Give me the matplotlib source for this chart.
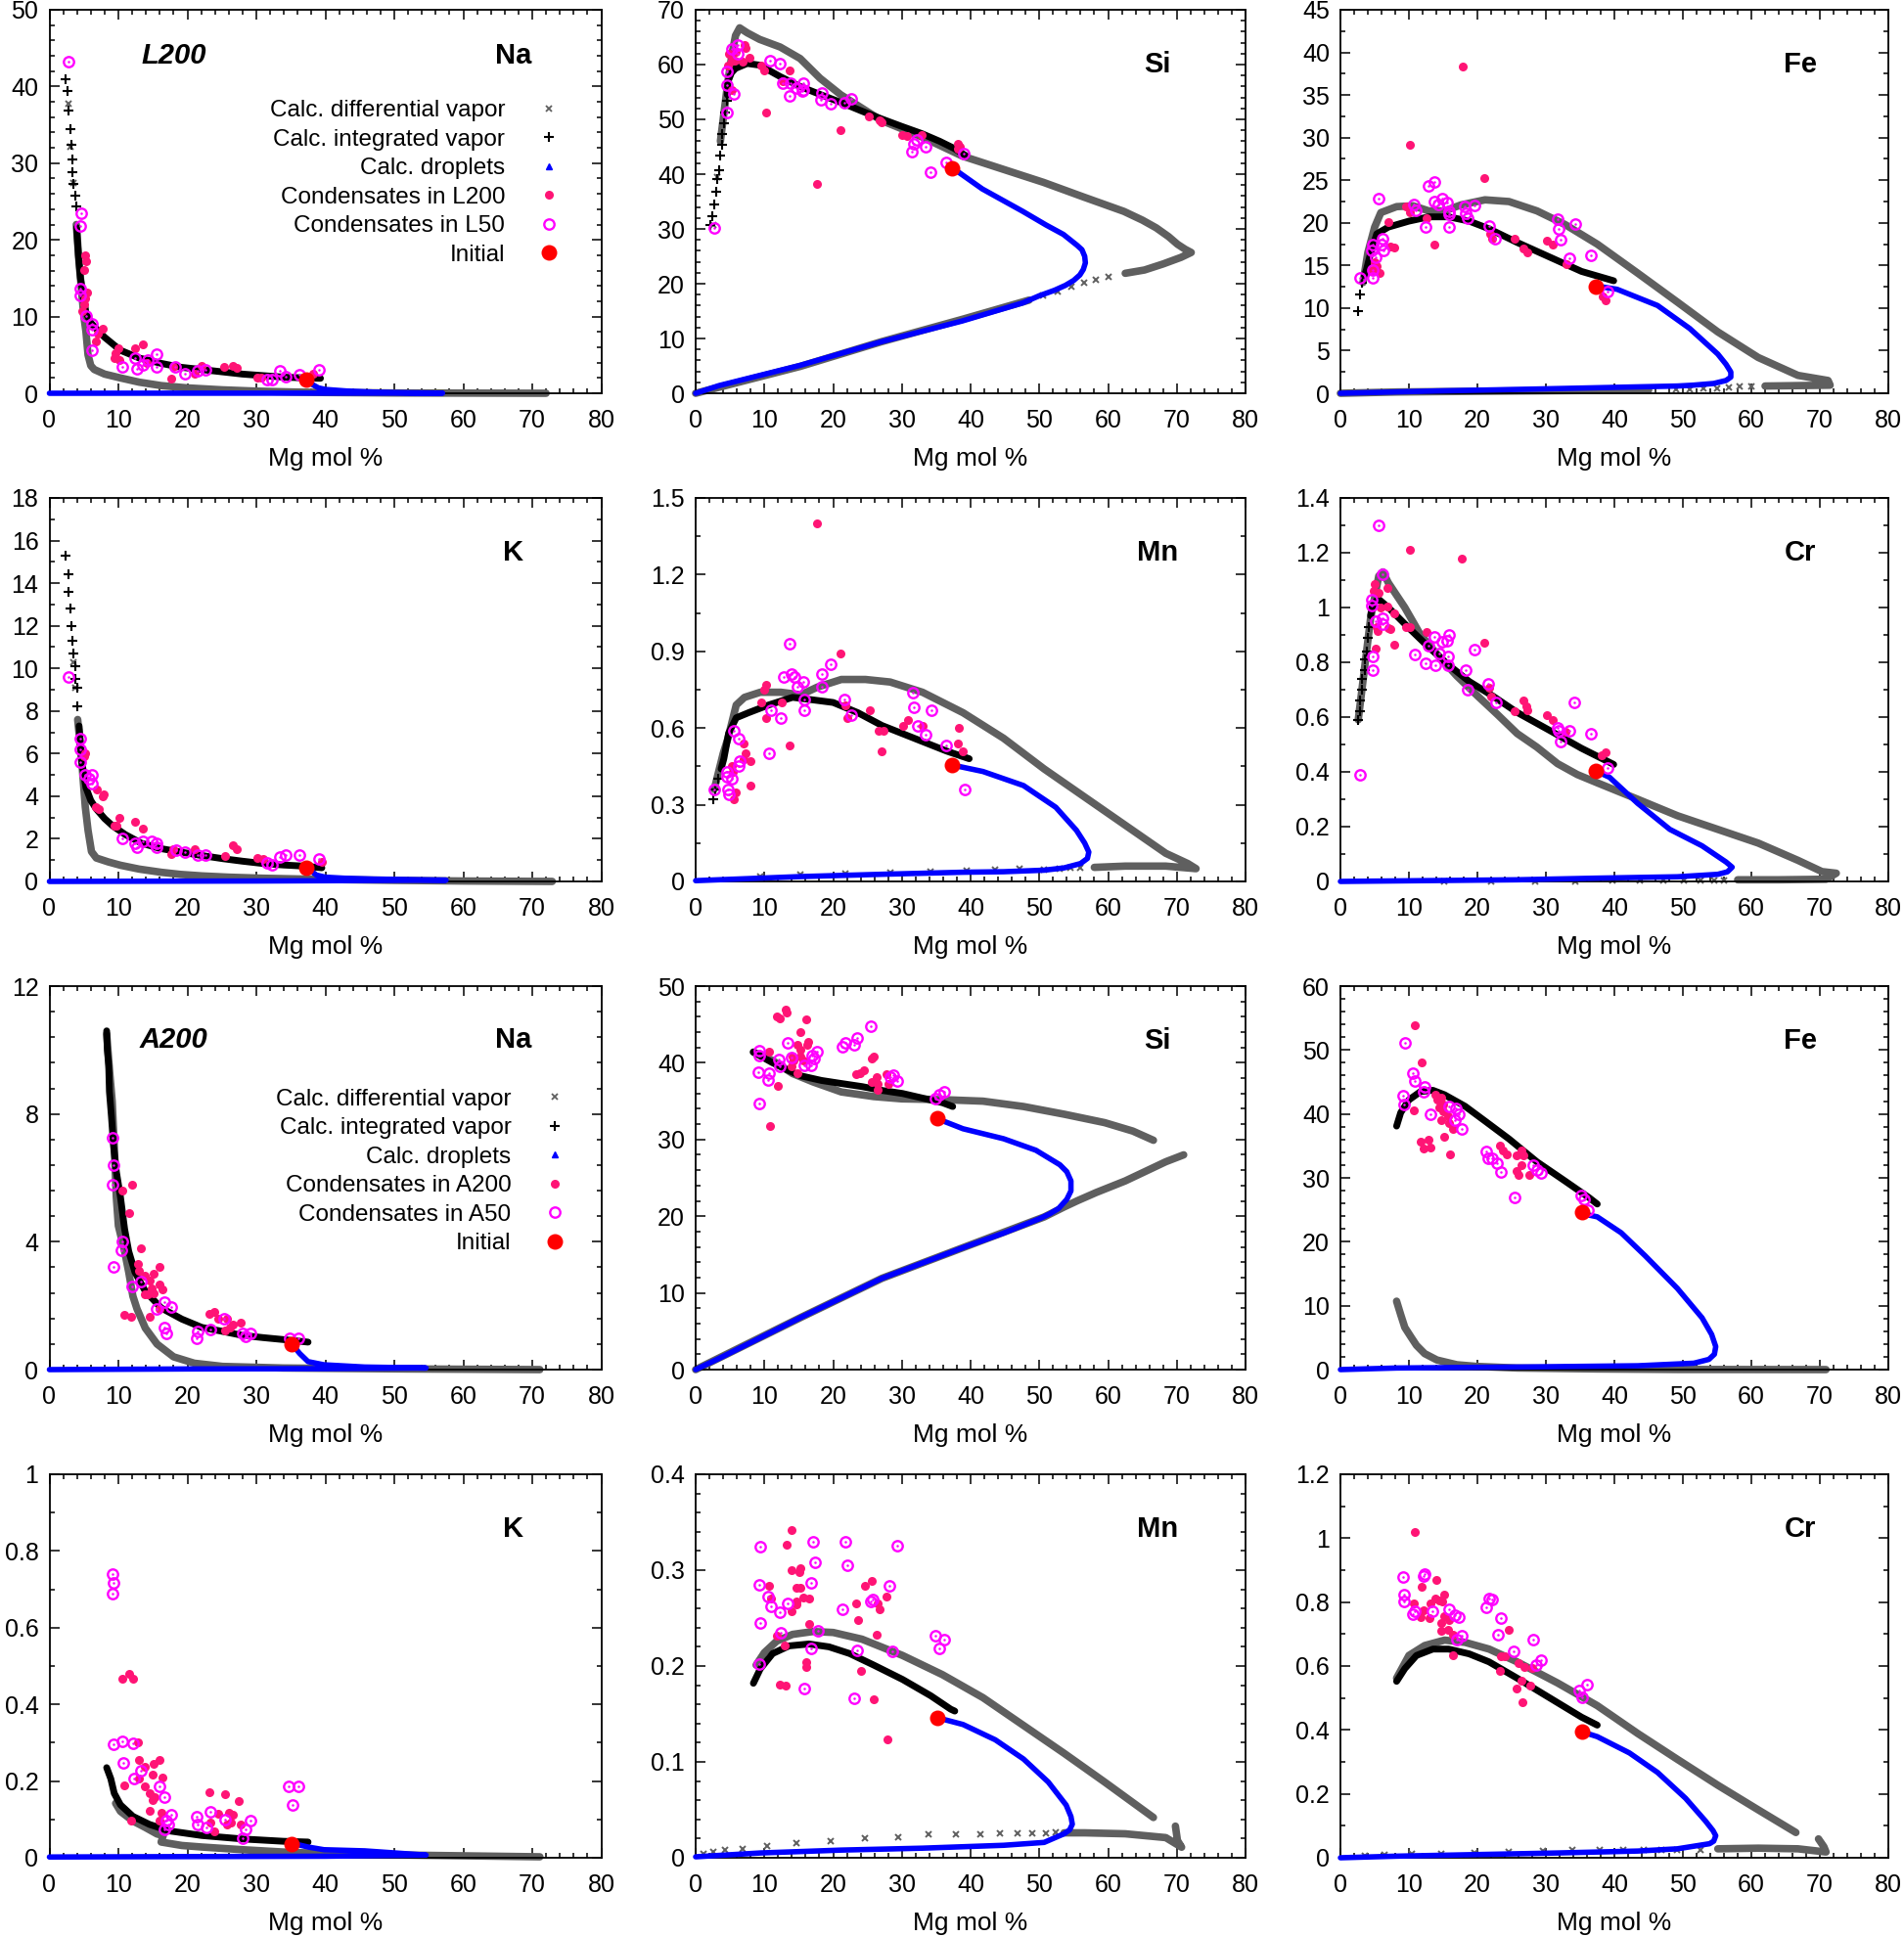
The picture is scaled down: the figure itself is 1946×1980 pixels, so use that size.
import numpy as np
import matplotlib
matplotlib.use('Agg')
import matplotlib.pyplot as plt
from matplotlib.ticker import MultipleLocator, AutoMinorLocator, FuncFormatter
from matplotlib.lines import Line2D

plt.rcParams['font.family'] = ['Liberation Sans', 'DejaVu Sans']

NAN = float('nan')
XLABEL = 'Mg mol %'
LEG_LABELS_L = ['Calc. differential vapor', 'Calc. integrated vapor', 'Calc. droplets',
                'Condensates in L200', 'Condensates in L50', 'Initial']
LEG_LABELS_A = ['Calc. differential vapor', 'Calc. integrated vapor', 'Calc. droplets',
                'Condensates in A200', 'Condensates in A50', 'Initial']

# ===================== L200 Na =====================
L_NA_DIFF = [(3.9,22.0),(4.3,17.0),(4.7,13.0),(5.0,10.0),(5.3,8.0),(5.6,5.0),(6.0,3.6),(6.5,3.1),(8.0,2.5),
             (10.3,2.0),(13.0,1.45),(16.2,1.0),(20.0,0.7),(25.0,0.45),(30.0,0.28),(35.0,0.17),(40.0,0.1),
             (50.0,0.04),(60.0,0.02),(72.0,0.0)]
L_NA_DIFF_PTS = [(2.8,37.8),(3.1,32.2),(3.5,27.4)]
L_NA_INT = [(3.95,21.6),(4.2,18.0),(4.5,15.0),(4.7,13.9),(5.3,10.5),(6.0,9.2),(6.8,8.4),(8.0,7.3),(10.3,5.6),
            (13.0,4.6),(16.2,3.9),(19.0,3.4),(22.0,3.1),(25.0,2.8),(28.0,2.5),(31.0,2.3),(34.0,2.1),(37.0,2.0),(39.3,1.95)]
L_NA_INT_PTS = [(2.36,41.0),(2.65,39.4),(2.77,36.8),(3.07,34.5),(3.25,32.4),(3.3,30.5),(3.4,28.8),(3.5,27.3),
                (3.7,25.8),(3.84,24.3)]
L_NA_DROP = [(37.3,1.8),(38.0,1.2),(39.0,0.7),(40.0,0.5),(43.0,0.3),(47.0,0.15),(52.0,0.07),(57.0,0.02),
             (45.0,0.02),(30.0,0.01),(15.0,0.01),(0.0,0.0)]
L_NA_COND = [(5.2,18.0),(5.3,17.2),(5.1,16.1),(5.5,13.1),(5.2,12.4),(5.0,11.6),(4.8,10.7),(7.8,8.4),(7.0,7.8),
             (6.8,6.7),(10.0,5.9),(9.6,5.2),(9.4,4.6),(10.2,4.4),(12.4,5.9),(13.5,6.4),(14.1,3.9),(17.6,1.9),
             (18.0,3.5),(22.0,3.6),(25.3,3.4),(26.6,3.6),(27.2,3.3),(30.1,2.0),(30.7,2.1),(38.2,2.5),(21.0,2.5)]
L_NA_COND50 = [(2.7,43.3),(4.6,23.5),(4.5,21.8),(4.5,13.7),(4.4,12.7),(5.3,10.1),(6.2,9.1),(6.1,8.3),(6.1,5.6),
               (10.6,3.4),(12.4,4.6),(12.7,3.2),(14.3,4.4),(15.6,5.1),(15.6,3.5),(13.6,3.7),(18.2,3.5),(19.6,2.5),
               (21.5,2.9),(22.6,3.1),(33.4,2.9),(31.6,1.8),(32.2,1.8),(34.2,2.2),(36.3,2.4),(39.1,3.0)]
L_NA_INIT = [(37.3,1.8)]

# ===================== L200 Si =====================
L_SI_DIFF = [(3.6,46.0),(4.2,52.0),(4.7,57.0),(5.3,62.0),(5.8,65.3),(6.4,66.7),(7.5,65.8),(9.3,64.6),(12.3,63.2),
             (15.2,61.1),(18.1,57.5),(21.1,54.5),(24.0,52.2),(27.0,49.8),(32.9,46.8),(38.8,43.3),(44.7,40.9),
             (50.6,38.5),(56.5,35.8),(62.3,33.2),(65.0,31.6),(67.0,30.2),(68.8,28.6),(70.1,27.2),(71.2,26.3),
             (72.1,25.7),(70.6,24.8),(68.0,23.6),(65.3,22.5),(62.5,21.9),(NAN,NAN),(48.5,17.0),(38.8,13.5),
             (27.0,9.4),(15.2,4.9),(0.0,0.0)]
L_SI_DIFF_PTS = [(2.5,30.8),(3.1,39.4),(60.0,21.3),(58.2,20.7),(56.5,20.1),(54.6,19.4),(52.6,18.6),(50.5,17.8)]
L_SI_INT = [(4.6,54.5),(4.7,56.9),(5.2,58.5),(5.8,59.3),(7.5,60.2),(9.3,59.9),(12.3,57.8),(15.2,56.0),(18.2,54.5),
            (21.1,53.1),(24.0,51.6),(27.0,50.1),(30.0,48.7),(32.9,47.4),(35.5,46.0),(37.6,44.7),(39.4,43.3)]
L_SI_INT_PTS = [(2.2,30.8),(2.4,32.4),(2.7,34.5),(3.0,36.8),(3.2,39.1),(3.4,40.8),(3.6,43.4),(3.8,45.3),
                (3.9,47.4),(4.1,49.2),(4.3,51.3),(4.5,53.4)]
L_SI_DROP = [(37.3,41.2),(41.7,37.3),(47.6,33.2),(51.0,30.7),(53.5,29.0),(55.5,27.0),(56.2,26.2),(56.6,25.0),
             (56.7,23.8),(56.4,22.6),(55.9,21.6),(55.0,20.6),(53.8,19.7),(52.2,18.8),(50.0,17.8),(47.6,16.5),
             (38.8,13.2),(27.0,9.4),(15.2,5.1),(3.4,1.4),(0.0,0.0)]
L_SI_COND = [(7.1,63.5),(7.3,63.0),(7.8,61.2),(6.9,60.5),(5.2,60.8),(4.7,59.9),(4.9,62.0),(5.7,60.8),(5.8,62.3),
             (5.3,55.4),(9.6,59.9),(9.9,59.0),(13.6,59.0),(12.6,56.9),(10.2,51.3),(17.6,38.2),(21.0,48.0),
             (25.2,50.5),(26.7,49.8),(27.0,49.5),(30.1,47.2),(30.8,46.9),(32.9,47.2),(38.2,45.6),(38.5,45.0),(38.1,44.6)]
L_SI_COND50 = [(2.7,30.2),(4.5,58.8),(4.5,56.3),(4.6,51.3),(5.3,62.9),(6.1,63.6),(6.1,62.0),(5.6,54.7),(10.8,60.8),
               (12.3,60.2),(12.7,56.6),(13.8,56.6),(13.6,54.2),(14.6,55.7),(15.7,56.6),(15.7,55.4),(15.5,55.1),
               (18.3,54.8),(18.2,53.5),(19.6,52.8),(21.6,53.1),(22.6,53.7),(31.5,44.1),(31.7,45.6),(32.2,46.2),
               (33.4,45.0),(34.2,40.4),(36.4,42.1),(39.0,43.7)]
L_SI_INIT = [(37.3,41.0)]

# ===================== L200 Fe =====================
L_FE_DIFF = [(3.3,13.0),(4.0,16.5),(5.0,19.5),(5.9,21.2),(8.2,21.9),(10.6,22.0),(12.9,21.4),(15.2,21.4),
             (17.6,22.1),(21.1,22.7),(24.6,22.5),(28.7,21.4),(32.8,19.8),(37.5,17.5),(43.4,14.1),(49.2,10.7),
             (55.1,7.2),(61.0,4.2),(66.8,2.1),(71.2,1.5),(71.5,0.95),(66.8,0.9),(62.0,0.85),(NAN,NAN),
             (45.0,0.38),(25.8,0.27),(8.2,0.15),(0.0,0.0)]
L_FE_DIFF_PTS = [(60.0,0.8),(58.3,0.75),(56.7,0.7),(55.0,0.62),(53.0,0.55),(51.0,0.5),(49.0,0.42)]
L_FE_INT = [(3.5,13.8),(3.8,14.5),(4.4,16.4),(5.3,18.7),(7.0,19.5),(10.0,20.2),(12.9,20.7),(15.8,20.7),(18.8,20.2),
            (21.7,19.3),(25.8,17.7),(30.5,16.0),(35.2,14.3),(39.9,13.2)]
L_FE_INT_PTS = [(2.6,9.7),(2.9,11.6),(3.2,13.0)]
L_FE_DROP = [(37.3,12.6),(40.4,12.2),(46.3,10.3),(51.0,7.6),(55.1,4.6),(56.3,3.4),(57.0,2.5),(57.0,1.9),(56.3,1.5),
             (54.5,1.15),(51.5,0.95),(49.2,0.85),(37.5,0.65),(25.8,0.45),(14.1,0.27),(0.0,0.0)]
L_FE_COND = [(9.5,21.9),(10.1,21.2),(10.1,29.2),(12.5,20.5),(13.7,17.4),(7.0,20.1),(7.3,17.2),(7.9,17.1),(5.3,14.9),
             (5.7,14.1),(4.7,14.5),(5.0,15.4),(17.8,38.3),(21.0,25.2),(21.9,18.7),(22.1,18.1),(25.4,18.1),(26.7,17.0),
             (27.3,16.5),(30.2,17.9),(31.0,17.4),(33.0,15.1),(38.3,11.4),(38.7,10.9)]
L_FE_COND50 = [(2.8,13.5),(5.6,22.8),(4.7,17.5),(4.5,16.8),(4.7,14.5),(4.7,13.5),(5.2,15.9),(6.2,18.1),(6.0,17.4),
               (6.3,16.8),(10.7,22.1),(11.0,21.5),(12.8,24.3),(13.7,24.8),(13.7,22.5),(12.4,19.5),(14.8,22.9),
               (14.3,22.2),(15.5,22.4),(15.8,21.4),(15.8,21.0),(15.8,19.5),(18.2,21.9),(18.3,21.1),(18.5,20.5),
               (19.6,22.0),(21.7,19.6),(22.6,18.1),(31.7,20.4),(31.8,19.3),(32.2,18.0),(33.4,15.8),(34.3,19.9),
               (36.5,16.2),(39.0,11.9)]
L_FE_INIT = [(37.3,12.5)]

# ===================== L200 K =====================
L_K_DIFF = [(4.1,7.6),(4.7,5.6),(5.2,3.5),(5.6,2.4),(6.1,1.4),(6.8,1.1),(8.5,0.92),(10.3,0.76),(13.0,0.58),
            (16.2,0.43),(19.0,0.33),(22.1,0.26),(26.0,0.2),(31.0,0.15),(38.7,0.1),(50.0,0.05),(60.0,0.02),(72.9,0.0)]
L_K_DIFF_PTS = [(3.5,10.3),(3.8,9.1)]
L_K_INT = [(4.3,7.3),(4.7,5.6),(5.3,4.4),(6.0,3.8),(6.8,3.4),(8.0,2.95),(9.2,2.6),(11.0,2.2),(13.3,1.8),(16.0,1.55),
           (19.2,1.37),(22.0,1.22),(25.1,1.07),(28.0,0.95),(31.0,0.84),(34.0,0.77),(36.9,0.72),(39.5,0.64)]
L_K_INT_PTS = [(2.4,15.3),(2.7,14.4),(2.8,13.6),(3.1,12.8),(3.2,12.0),(3.4,11.3),(3.5,10.7),(3.7,10.1),(3.8,9.5),
               (4.0,9.1),(4.1,8.2)]
L_K_DROP = [(37.3,0.66),(38.7,0.3),(40.0,0.2),(42.8,0.15),(47.0,0.11),(51.6,0.09),(57.5,0.06),(45.0,0.04),
            (30.0,0.02),(15.0,0.01),(0.0,0.0)]
L_K_COND = [(5.2,6.0),(5.0,5.9),(6.9,4.3),(7.9,4.1),(7.8,4.0),(6.8,3.5),(7.1,3.4),(10.1,3.0),(9.7,2.6),(9.4,2.6),
            (12.4,2.8),(13.6,2.5),(18.0,1.5),(21.0,1.5),(25.4,1.2),(26.6,1.7),(27.2,1.5),(30.1,1.1),(31.0,1.07),
            (17.7,1.3),(39.5,0.9)]
L_K_COND50 = [(2.7,9.6),(4.5,6.7),(4.4,6.2),(4.4,5.6),(5.2,5.0),(6.1,5.0),(5.7,4.8),(6.1,4.6),(10.6,2.0),(12.4,1.8),
              (12.7,1.6),(13.6,1.9),(14.8,1.9),(15.6,1.8),(15.6,1.6),(18.3,1.45),(19.6,1.37),(21.5,1.25),(22.6,1.25),
              (31.6,0.87),(32.2,0.76),(33.4,1.17),(34.2,1.22),(36.3,1.22),(39.1,1.04)]
L_K_INIT = [(37.3,0.66)]

# ===================== L200 Mn =====================
L_MN_DIFF = [(2.7,0.36),(4.0,0.5),(4.7,0.56),(5.9,0.69),(7.1,0.72),(9.4,0.74),(12.4,0.74),(15.3,0.73),(17.7,0.76),
             (21.2,0.79),(24.7,0.79),(28.3,0.78),(33.0,0.74),(38.9,0.66),(44.8,0.56),(50.7,0.44),(56.6,0.33),
             (62.5,0.22),(68.4,0.11),(71.6,0.07),(72.8,0.05),(68.4,0.06),(62.5,0.06),(58.0,0.055)]
L_MN_DIFF_PTS = [(56.0,0.055),(54.5,0.052),(53.0,0.05),(50.7,0.045),(47.1,0.048),(43.6,0.045),(39.5,0.042),
                 (34.2,0.038),(28.3,0.034),(21.8,0.03),(15.3,0.025),(9.4,0.019)]
L_MN_INT = [(3.7,0.44),(4.1,0.48),(4.8,0.58),(5.9,0.64),(7.7,0.66),(10.6,0.69),(14.1,0.72),(17.1,0.71),(20.0,0.70),
            (23.6,0.66),(27.1,0.61),(31.8,0.56),(36.5,0.51),(39.8,0.48)]
L_MN_INT_PTS = [(2.5,0.32),(2.9,0.36),(3.3,0.40)]
L_MN_DROP = [(37.4,0.455),(41.8,0.43),(47.7,0.375),(52.4,0.29),(55.4,0.2),(56.6,0.15),(57.2,0.115),(57.0,0.09),
             (56.0,0.07),(53.6,0.053),(50.7,0.044),(44.8,0.038),(38.9,0.036),(27.1,0.028),(15.3,0.019),(0.0,0.003)]
L_MN_COND = [(17.7,1.40),(9.9,0.75),(10.2,0.77),(9.6,0.70),(10.2,0.64),(12.5,0.70),(13.7,0.53),(7.0,0.54),(7.2,0.50),
             (7.0,0.48),(8.0,0.47),(8.0,0.375),(5.2,0.45),(5.4,0.43),(5.8,0.35),(5.5,0.32),(21.0,0.89),(21.8,0.69),
             (22.1,0.64),(25.3,0.67),(26.6,0.59),(27.3,0.59),(27.1,0.51),(30.2,0.61),(30.9,0.63),(33.0,0.61),
             (38.3,0.60),(38.2,0.54),(38.8,0.51)]
L_MN_COND50 = [(2.7,0.36),(4.6,0.43),(4.6,0.41),(4.7,0.36),(4.8,0.34),(5.2,0.40),(5.6,0.59),(6.2,0.56),(6.2,0.45),
               (6.4,0.47),(10.9,0.67),(10.7,0.50),(12.4,0.64),(12.8,0.80),(13.7,0.93),(13.9,0.81),(14.4,0.80),
               (14.8,0.76),(15.6,0.78),(15.8,0.71),(15.8,0.67),(19.7,0.85),(18.4,0.81),(18.3,0.76),(21.7,0.71),
               (22.7,0.65),(31.6,0.74),(31.8,0.68),(32.3,0.61),(33.5,0.575),(34.3,0.67),(36.5,0.53),(39.1,0.36)]
L_MN_INIT = [(37.3,0.455)]

# ===================== L200 Cr =====================
L_CR_DIFF = [(2.6,0.59),(4.4,0.96),(5.6,1.115),(6.2,1.13),(7.0,1.09),(9.4,1.0),(11.7,0.90),(14.1,0.83),(17.0,0.75),
             (19.9,0.68),(22.9,0.61),(25.8,0.54),(28.7,0.49),(31.7,0.43),(34.6,0.39),(37.5,0.36),(43.4,0.30),
             (49.2,0.24),(55.1,0.19),(61.0,0.14),(66.8,0.077),(70.3,0.036),(72.4,0.03),(70.9,0.008),(63.9,0.006),
             (58.0,0.006)]
L_CR_DIFF_PTS = [(56.0,0.005),(54.5,0.004),(52.5,0.004),(50.1,0.004),(47.2,0.003),(43.7,0.002),(39.7,0.002),
                 (34.3,0.001),(28.4,0.001),(22.0,0.001),(15.2,0.001)]
L_CR_INT = [(4.4,0.97),(4.6,1.0),(5.0,1.02),(5.6,1.03),(7.0,1.0),(10.0,0.925),(12.9,0.855),(15.8,0.79),(18.8,0.73),
            (22.3,0.676),(25.8,0.617),(30.5,0.552),(35.2,0.486),(39.9,0.427)]
L_CR_INT_PTS = [(2.6,0.59),(2.8,0.62),(2.9,0.66),(3.1,0.70),(3.2,0.74),(3.5,0.77),(3.6,0.81),(3.9,0.84),(4.0,0.89),
                (4.2,0.93)]
L_CR_DROP = [(37.3,0.403),(39.3,0.38),(43.4,0.285),(48.1,0.19),(52.8,0.13),(56.3,0.071),(57.2,0.052),(56.5,0.035),
             (55.1,0.026),(49.2,0.017),(37.5,0.012),(25.8,0.006),(0.0,0.0)]
L_CR_COND = [(10.1,1.21),(17.7,1.18),(5.0,1.085),(4.8,1.06),(5.6,1.055),(6.9,1.07),(5.9,1.0),(6.9,1.005),(5.4,0.916),
             (5.3,0.93),(7.0,0.925),(7.3,0.92),(5.2,0.85),(7.9,0.866),(7.8,0.98),(9.5,0.93),(10.1,0.93),(12.5,0.91),
             (21.0,0.87),(21.7,0.706),(22.0,0.674),(25.4,0.62),(26.7,0.662),(27.1,0.64),(27.3,0.626),(30.2,0.607),
             (31.0,0.59),(32.9,0.546),(38.2,0.46),(38.7,0.472)]
L_CR_COND50 = [(2.8,0.39),(5.6,1.30),(6.2,1.12),(4.6,1.03),(4.6,1.006),(4.7,0.82),(4.7,0.77),(5.2,0.95),(6.2,0.96),
               (6.2,0.94),(10.8,0.83),(12.4,0.795),(12.9,0.86),(13.7,0.893),(13.8,0.79),(14.4,0.833),(14.8,0.876),
               (15.5,0.878),(15.8,0.90),(15.7,0.82),(15.7,0.79),(18.3,0.77),(18.5,0.70),(19.6,0.845),(21.6,0.72),
               (22.7,0.655),(31.7,0.56),(31.8,0.55),(32.2,0.51),(33.4,0.55),(34.2,0.655),(36.5,0.54),(39.0,0.413)]
L_CR_INIT = [(37.3,0.403)]

# ===================== A200 Na =====================
A_NA_DIFF = [(8.3,10.5),(8.7,9.4),(9.1,8.4),(9.4,7.0),(9.7,5.4),(10.0,4.5),(10.9,3.7),(11.5,3.05),(12.1,2.3),
             (12.7,1.9),(13.9,1.3),(15.6,0.8),(18.0,0.4),(21.0,0.2),(25.1,0.1),(33.9,0.05),(51.7,0.02),(71.1,0.0)]
A_NA_INT = [(8.3,10.6),(8.4,10.0),(8.6,9.5),(8.7,8.7),(9.0,7.9),(9.3,7.0),(9.7,6.2),(10.3,5.4),(10.9,4.4),(11.5,3.7),
            (12.4,3.05),(13.9,2.45),(16.2,1.93),(19.2,1.58),(22.1,1.32),(25.0,1.2),(28.0,1.07),(31.0,1.0),(33.9,0.94),
            (37.5,0.86)]
A_NA_DROP = [(35.1,0.81),(36.3,0.5),(37.5,0.25),(39.8,0.15),(45.7,0.08),(54.6,0.05),(40.0,0.03),(20.0,0.02),(0.0,0.0)]
A_NA_COND = [(12.0,5.8),(10.6,5.6),(11.5,4.9),(13.2,3.8),(12.8,3.3),(13.0,3.1),(15.1,3.0),(15.9,3.2),(13.9,2.95),
             (14.5,2.8),(14.8,2.55),(15.9,2.65),(16.4,2.5),(14.2,2.35),(15.1,2.4),(13.8,2.35),(10.9,1.7),(11.8,1.65),
             (14.5,1.65),(15.9,1.9),(23.2,1.75),(23.9,1.8),(24.5,1.6),(25.7,1.6),(26.6,1.4),(27.7,1.47),(25.4,1.22),
             (26.2,1.32)]
A_NA_COND50 = [(9.1,7.25),(9.3,6.4),(9.1,5.8),(9.3,3.2),(10.6,4.0),(10.4,3.75),(12.0,2.6),(13.3,2.75),(15.6,1.9),
               (16.7,2.1),(17.7,1.95),(16.7,1.32),(17.0,1.12),(21.3,0.97),(21.5,1.2),(23.3,1.25),(25.3,1.6),(28.0,1.12),
               (28.5,1.04),(29.2,1.12),(34.8,0.97),(36.1,0.97)]
A_NA_INIT = [(35.1,0.8)]

# ===================== A200 Si =====================
A_SI_DIFF = [(8.4,41.4),(11.2,40.3),(14.1,38.6),(17.1,37.5),(21.2,36.2),(25.9,35.6),(30.0,35.3),(35.9,35.2),(41.8,35.0),
             (47.7,34.3),(53.6,33.3),(59.5,32.2),(63.6,31.1),(66.6,29.9),(NAN,NAN),(71.0,28.0),(68.4,27.1),(62.5,24.6),
             (58.3,23.1),(55.5,22.0),(53.6,21.2),(50.7,19.9),(38.9,15.9),(27.1,11.9),(15.3,6.8),(0.0,0.0)]
A_SI_INT = [(8.4,41.4),(9.4,40.9),(11.2,40.0),(13.0,39.2),(15.3,38.3),(18.3,37.7),(21.2,37.3),(24.2,36.9),(27.1,36.4),
            (30.1,36.0),(33.0,35.4),(35.9,34.8),(37.4,34.3)]
A_SI_DROP = [(35.2,32.7),(38.9,31.4),(44.8,30.1),(49.5,28.6),(53.0,26.7),(54.0,25.8),(54.6,24.6),(54.6,23.3),
             (54.0,22.2),(52.8,21.0),(51.5,20.3),(50.1,19.7),(44.8,17.8),(38.9,15.9),(27.1,11.9),(15.3,6.8),
             (3.5,1.5),(0.0,0.0)]
A_SI_COND = [(11.8,46.1),(12.3,45.8),(13.1,47.0),(13.3,46.6),(16.1,45.6),(15.2,44.0),(16.4,42.7),(16.2,42.3),(14.8,42.4),
             (15.2,41.7),(14.1,40.8),(14.3,40.3),(15.3,40.8),(15.6,40.3),(14.0,39.6),(14.8,38.6),(10.7,41.4),(11.9,37.0),
             (10.8,31.7),(23.3,38.5),(23.9,38.6),(24.5,39.0),(25.6,40.5),(25.9,40.8),(25.6,37.5),(26.4,38.1),(26.5,37.2),
             (26.5,36.5),(27.7,38.5),(28.1,37.2)]
A_SI_COND50 = [(9.3,41.6),(9.3,41.0),(9.1,38.8),(9.3,34.7),(10.7,38.6),(10.6,37.8),(12.1,40.4),(12.3,39.5),(13.4,42.6),
               (14.0,40.7),(15.8,39.7),(16.8,39.7),(17.0,40.9),(17.2,40.5),(17.7,41.5),(21.4,42.1),(21.8,42.6),(23.0,42.3),
               (23.5,43.2),(25.5,44.8),(28.3,38.2),(28.8,38.4),(29.3,37.6),(34.9,35.3),(35.5,35.8),(36.1,36.2)]
A_SI_INIT = [(35.2,32.8)]

# ===================== A200 Fe =====================
A_FE_DIFF = [(8.2,10.7),(8.8,8.6),(9.4,6.6),(10.3,5.1),(11.1,3.8),(12.3,2.5),(14.1,1.5),(17.0,0.76),(19.9,0.5),
             (25.8,0.25),(37.5,0.1),(49.2,0.02),(70.9,0.0)]
A_FE_INT = [(8.2,38.1),(8.8,40.2),(10.0,42.2),(11.7,43.5),(13.5,43.7),(15.2,43.0),(18.2,41.2),(21.1,38.9),(24.6,36.1),
            (28.7,32.5),(32.8,29.5),(36.3,26.9),(37.5,25.9)]
A_FE_DROP = [(35.3,24.4),(37.5,23.9),(41.0,21.4),(44.5,17.8),(49.2,12.7),(52.8,8.1),(54.2,5.5),(54.8,3.6),(54.6,2.4),
             (53.8,1.6),(51.6,1.0),(43.4,0.6),(25.8,0.4),(8.2,0.25),(0.0,0.0)]
A_FE_COND = [(10.9,53.9),(11.8,48.1),(10.7,40.6),(11.7,35.7),(12.1,34.6),(12.9,36.0),(13.2,34.8),(13.8,43.0),(14.1,42.2),
             (14.7,42.5),(14.4,41.0),(15.0,40.4),(14.7,39.1),(15.2,36.4),(15.7,39.6),(15.8,38.6),(16.4,37.7),(16.0,33.7),
             (15.0,41.5),(23.3,35.1),(23.7,34.3),(24.3,33.6),(25.7,33.5),(26.4,34.3),(26.7,33.5),(25.7,31.0),(26.0,30.4),
             (26.4,32.0),(27.6,30.5)]
A_FE_COND50 = [(9.4,51.1),(9.1,42.8),(9.3,41.5),(10.6,46.4),(10.8,45.2),(12.3,44.2),(12.2,43.5),(13.2,39.9),(15.8,41.2),
               (16.9,40.9),(17.3,39.9),(16.7,39.0),(17.7,37.6),(21.3,34.2),(21.6,33.0),(22.2,33.0),(22.9,32.3),(23.4,30.9),
               (25.4,27.0),(28.1,32.0),(28.7,31.3),(29.3,30.8),(35.1,27.3),(35.5,26.7),(36.2,25.0)]
A_FE_INIT = [(35.3,24.6)]

# ===================== A200 K =====================
A_K_DIFF = [(9.6,0.142),(10.3,0.121),(12.1,0.096),(13.9,0.079),(15.6,0.062),(16.5,0.058),(16.2,0.041),(19.2,0.032),
            (22.1,0.028),(28.0,0.021),(33.9,0.015),(39.8,0.011),(51.7,0.007),(71.1,0.0025)]
A_K_INT = [(8.3,0.235),(8.9,0.206),(9.4,0.168),(10.3,0.138),(12.1,0.108),(14.5,0.087),(17.4,0.07),(22.1,0.058),
           (28.0,0.049),(33.9,0.043),(37.5,0.041)]
A_K_DROP = [(35.1,0.038),(37.5,0.028),(39.8,0.021),(45.7,0.018),(54.6,0.007),(40.0,0.004),(20.0,0.003),(0.0,0.002)]
A_K_COND = [(10.6,0.468),(11.5,0.479),(12.1,0.468),(12.9,0.302),(13.0,0.255),(13.0,0.206),(13.9,0.238),(15.1,0.244),
            (15.9,0.254),(14.9,0.216),(16.4,0.21),(13.9,0.185),(14.5,0.168),(14.9,0.151),(15.3,0.157),(14.5,0.123),
            (16.2,0.117),(15.9,0.097),(10.8,0.19),(11.8,0.096),(23.2,0.172),(25.5,0.165),(27.5,0.148),(24.5,0.114),
            (23.4,0.093),(23.9,0.07),(26.0,0.117),(26.6,0.113),(25.7,0.087),(26.3,0.091),(27.7,0.087)]
A_K_COND50 = [(9.1,0.739),(9.3,0.718),(9.2,0.69),(9.3,0.296),(10.5,0.304),(12.1,0.299),(10.7,0.248),(12.2,0.206),
              (13.3,0.227),(15.9,0.185),(16.6,0.157),(17.7,0.111),(17.0,0.096),(17.2,0.087),(16.7,0.073),(21.3,0.106),
              (21.5,0.087),(23.3,0.119),(22.8,0.079),(25.4,0.1),(28.0,0.052),(28.5,0.075),(29.2,0.096),(34.7,0.186),
              (36.1,0.187),(35.3,0.138)]
A_K_INIT = [(35.1,0.036)]

# ===================== A200 Mn =====================
A_MN_DIFF = [(8.8,0.201),(10.0,0.214),(11.8,0.226),(14.1,0.233),(17.1,0.236),(20.0,0.235),(24.2,0.228),(30.1,0.211),
             (35.9,0.191),(41.8,0.167),(47.7,0.138),(53.6,0.109),(59.5,0.079),(66.6,0.042),(NAN,NAN),(69.8,0.033),
             (70.1,0.018),(70.7,0.011),(68.4,0.021),(62.5,0.025),(56.6,0.026),(53.6,0.026)]
A_MN_DIFF_PTS = [(52.4,0.027),(50.9,0.026),(49.0,0.026),(46.8,0.026),(44.2,0.026),(41.4,0.025),(37.9,0.025),
                 (33.9,0.024),(29.5,0.021),(24.6,0.02),(19.6,0.017),(14.7,0.015),(10.4,0.012),(6.9,0.009),
                 (4.3,0.008),(2.5,0.006),(1.2,0.004)]
A_MN_INT = [(8.4,0.182),(9.4,0.197),(11.2,0.213),(13.6,0.221),(16.5,0.223),(19.4,0.22),(22.4,0.213),(25.9,0.201),
            (30.1,0.186),(34.2,0.169),(37.1,0.155),(37.7,0.153)]
A_MN_DROP = [(35.2,0.146),(38.9,0.139),(43.6,0.123),(47.7,0.103),(51.3,0.079),(53.9,0.055),(54.6,0.043),(54.8,0.035),
             (54.4,0.029),(53.6,0.025),(50.7,0.016),(44.8,0.013),(33.0,0.010),(21.2,0.008),(9.4,0.005),(0.0,0.001)]
A_MN_COND = [(14.0,0.342),(13.3,0.327),(14.0,0.300),(15.2,0.302),(15.1,0.298),(10.7,0.284),(14.7,0.282),(15.2,0.282),
             (14.7,0.267),(14.7,0.264),(14.0,0.257),(15.6,0.271),(16.5,0.270),(10.9,0.270),(16.5,0.244),(11.8,0.232),
             (13.0,0.221),(12.2,0.181),(13.1,0.18),(16.1,0.204),(16.1,0.199),(24.6,0.284),(25.6,0.289),(23.3,0.265),
             (23.6,0.248),(26.5,0.265),(26.8,0.259),(27.7,0.272),(26.4,0.233),(24.0,0.195),(25.9,0.165),(27.9,0.123)]
A_MN_COND50 = [(9.4,0.324),(9.3,0.285),(10.6,0.272),(10.9,0.262),(9.4,0.245),(9.2,0.202),(12.2,0.256),(12.4,0.235),
               (13.4,0.265),(17.1,0.33),(17.3,0.308),(16.8,0.287),(17.8,0.237),(16.8,0.218),(15.8,0.177),(21.8,0.33),
               (22.1,0.305),(21.4,0.259),(23.5,0.216),(23.0,0.166),(25.5,0.267),(25.8,0.269),(28.2,0.284),(29.3,0.326),
               (28.6,0.215),(34.9,0.232),(36.1,0.228),(35.4,0.218)]
A_MN_INIT = [(35.2,0.146)]

# ===================== A200 Cr =====================
A_CR_DIFF = [(8.2,0.562),(10.0,0.633),(12.3,0.664),(15.2,0.681),(18.2,0.674),(21.7,0.653),(25.8,0.613),(31.7,0.547),
             (37.5,0.476),(43.4,0.389),(49.2,0.308),(55.1,0.227),(61.0,0.150),(66.5,0.079),(NAN,NAN),(69.8,0.059),
             (70.6,0.034),(70.9,0.018),(66.8,0.028),(61.0,0.03),(55.1,0.028)]
A_CR_DIFF_PTS = [(52.5,0.025),(49.2,0.025),(46.9,0.025),(44.3,0.025),(41.3,0.025),(37.8,0.023),(33.9,0.023),
                 (29.6,0.021),(24.6,0.018),(19.6,0.016),(14.7,0.013),(10.4,0.011),(6.4,0.008),(3.5,0.005)]
A_CR_INT = [(8.2,0.552),(9.4,0.592),(11.1,0.633),(13.5,0.653),(15.8,0.653),(18.8,0.638),(21.7,0.613),(25.8,0.562),
            (30.5,0.501),(35.2,0.44),(37.5,0.415)]
A_CR_DROP = [(35.3,0.394),(37.5,0.379),(42.2,0.328),(46.3,0.267),(50.4,0.186),(53.3,0.115),(54.4,0.085),(54.8,0.069),
             (54.5,0.052),(53.9,0.044),(49.2,0.028),(43.4,0.021),(31.7,0.015),(19.9,0.01),(8.2,0.005),(0.0,0.0)]
A_CR_COND = [(10.9,1.019),(11.8,0.847),(14.0,0.87),(10.7,0.796),(12.2,0.775),(11.7,0.753),(13.0,0.75),(13.2,0.796),
             (13.8,0.811),(14.4,0.806),(14.8,0.801),(15.1,0.824),(15.1,0.757),(14.7,0.735),(14.7,0.711),(15.7,0.712),
             (15.8,0.745),(16.4,0.699),(16.4,0.633),(24.6,0.714),(23.4,0.63),(24.0,0.63),(23.3,0.584),(25.7,0.531),
             (26.0,0.608),(26.8,0.598),(26.4,0.555),(26.5,0.486),(27.7,0.54),(28.0,0.594)]
A_CR_COND50 = [(9.1,0.88),(9.3,0.824),(9.3,0.801),(10.6,0.762),(10.8,0.772),(12.2,0.882),(12.3,0.887),(13.4,0.772),
               (15.9,0.777),(16.7,0.758),(17.3,0.752),(17.0,0.684),(17.7,0.694),(21.3,0.784),(21.7,0.811),(22.2,0.809),
               (23.0,0.699),(23.4,0.75),(25.3,0.645),(28.1,0.682),(28.6,0.603),(29.3,0.618),(34.9,0.523),(35.3,0.503),
               (36.0,0.542)]
A_CR_INIT = [(35.3,0.395)]

# ---------------- panel table (row, col, element, y max, major step, minor div, data) -------------
PANELS = [
    dict(r=0, c=0, el='Na', ymax=50, step=10, nmin=5, tag='L200', ly=0.88,
         diff=L_NA_DIFF, diffp=L_NA_DIFF_PTS, integ=L_NA_INT, integp=L_NA_INT_PTS, drop=L_NA_DROP,
         cond=L_NA_COND, cond50=L_NA_COND50, init=L_NA_INIT),
    dict(r=0, c=1, el='Si', ymax=70, step=10, nmin=5, diff=L_SI_DIFF, diffp=L_SI_DIFF_PTS, integ=L_SI_INT,
         integp=L_SI_INT_PTS, drop=L_SI_DROP, cond=L_SI_COND, cond50=L_SI_COND50, init=L_SI_INIT),
    dict(r=0, c=2, el='Fe', ymax=45, step=5, nmin=2, diff=L_FE_DIFF, diffp=L_FE_DIFF_PTS, integ=L_FE_INT,
         integp=L_FE_INT_PTS, drop=L_FE_DROP, cond=L_FE_COND, cond50=L_FE_COND50, init=L_FE_INIT),
    dict(r=1, c=0, el='K', ymax=18, step=2, nmin=2, diff=L_K_DIFF, diffp=L_K_DIFF_PTS, integ=L_K_INT,
         integp=L_K_INT_PTS, drop=L_K_DROP, cond=L_K_COND, cond50=L_K_COND50, init=L_K_INIT),
    dict(r=1, c=1, el='Mn', ymax=1.5, step=0.3, nmin=2, diff=L_MN_DIFF, diffp=L_MN_DIFF_PTS, integ=L_MN_INT,
         integp=L_MN_INT_PTS, drop=L_MN_DROP, cond=L_MN_COND, cond50=L_MN_COND50, init=L_MN_INIT),
    dict(r=1, c=2, el='Cr', ymax=1.4, step=0.2, nmin=2, diff=L_CR_DIFF, diffp=L_CR_DIFF_PTS, integ=L_CR_INT,
         integp=L_CR_INT_PTS, drop=L_CR_DROP, cond=L_CR_COND, cond50=L_CR_COND50, init=L_CR_INIT),
    dict(r=2, c=0, el='Na', ymax=12, step=4, nmin=5, tag='A200', ly=0.86,
         diff=A_NA_DIFF, diffp=None, integ=A_NA_INT, integp=None, drop=A_NA_DROP,
         cond=A_NA_COND, cond50=A_NA_COND50, init=A_NA_INIT),
    dict(r=2, c=1, el='Si', ymax=50, step=10, nmin=5, diff=A_SI_DIFF, diffp=None, integ=A_SI_INT, integp=None,
         drop=A_SI_DROP, cond=A_SI_COND, cond50=A_SI_COND50, init=A_SI_INIT),
    dict(r=2, c=2, el='Fe', ymax=60, step=10, nmin=5, diff=A_FE_DIFF, diffp=None, integ=A_FE_INT, integp=None,
         drop=A_FE_DROP, cond=A_FE_COND, cond50=A_FE_COND50, init=A_FE_INIT),
    dict(r=3, c=0, el='K', ymax=1.0, step=0.2, nmin=2, diff=A_K_DIFF, diffp=None, integ=A_K_INT, integp=None,
         drop=A_K_DROP, cond=A_K_COND, cond50=A_K_COND50, init=A_K_INIT),
    dict(r=3, c=1, el='Mn', ymax=0.4, step=0.1, nmin=5, diff=A_MN_DIFF, diffp=A_MN_DIFF_PTS, integ=A_MN_INT,
         integp=None, drop=A_MN_DROP, cond=A_MN_COND, cond50=A_MN_COND50, init=A_MN_INIT),
    dict(r=3, c=2, el='Cr', ymax=1.2, step=0.2, nmin=2, diff=A_CR_DIFF, diffp=A_CR_DIFF_PTS, integ=A_CR_INT,
         integp=None, drop=A_CR_DROP, cond=A_CR_COND, cond50=A_CR_COND50, init=A_CR_INIT),
]

GRAY = '#5f5f5f'
BLACK = '#000000'
BLUE = '#0000ff'
PINK = '#ff1475'
MAGENTA = '#ff00ff'
RED = '#ff0000'

W, H = 1946, 1980
COL_LEFT = [50.5, 711, 1370]
COL_W = [564, 562, 560]
ROW_TOP = [10, 509, 1008, 1507]
AX_H = 392


def xy(pts):
    a = np.array(pts, dtype=float)
    return a[:, 0], a[:, 1]


fig = plt.figure(figsize=(W / 100, H / 100), dpi=100)
fmt = FuncFormatter(lambda v, p: '%g' % round(v, 6))

for p in PANELS:
    r, c = p['r'], p['c']
    ax = fig.add_axes([COL_LEFT[c] / W, 1 - (ROW_TOP[r] + AX_H) / H, COL_W[c] / W, AX_H / H])
    ax.set_xlim(0, 80)
    ax.set_ylim(0, p['ymax'])
    ax.xaxis.set_major_locator(MultipleLocator(10))
    ax.xaxis.set_minor_locator(AutoMinorLocator(5))
    ax.yaxis.set_major_locator(MultipleLocator(p['step']))
    ax.yaxis.set_minor_locator(AutoMinorLocator(p['nmin']))
    ax.xaxis.set_major_formatter(fmt)
    ax.yaxis.set_major_formatter(fmt)
    ax.tick_params(which='both', direction='in', top=True, right=True, width=1.1, labelsize=18)
    ax.tick_params(which='major', length=7)
    ax.tick_params(which='minor', length=3.5)
    ax.tick_params(axis='x', pad=11.5)
    ax.tick_params(axis='y', pad=8)
    for s in ax.spines.values():
        s.set_linewidth(1.3)
    ax.set_xlabel(XLABEL, fontsize=19, labelpad=11)

    # differential vapor
    x, y = xy(p['diff'])
    ax.plot(x, y, color=GRAY, lw=5.5, solid_capstyle='round', solid_joinstyle='round', zorder=2, clip_on=False)
    if p['diffp']:
        x, y = xy(p['diffp'])
        ax.plot(x, y, ls='none', marker='x', color=GRAY, ms=5, mew=1.4, zorder=2, clip_on=False)
    # integrated vapor
    x, y = xy(p['integ'])
    ax.plot(x, y, color=BLACK, lw=5.0, solid_capstyle='round', solid_joinstyle='round', zorder=3, clip_on=False)
    if p['integp']:
        x, y = xy(p['integp'])
        ax.plot(x, y, ls='none', marker='+', color=BLACK, ms=7, mew=1.5, zorder=3, clip_on=False)
    # droplets
    x, y = xy(p['drop'])
    ax.plot(x, y, color=BLUE, lw=4.0, solid_capstyle='round', solid_joinstyle='round', zorder=4, clip_on=False)
    # condensates
    x, y = xy(p['cond'])
    ax.plot(x, y, ls='none', marker='o', color=PINK, mec='none', ms=6.5, zorder=5, clip_on=False)
    x, y = xy(p['cond50'])
    ax.plot(x, y, ls='none', marker='o', mfc='none', mec=MAGENTA, ms=7.5, mew=1.7, zorder=6, clip_on=False)
    ax.plot(x, y, ls='none', marker='o', color=MAGENTA, mec='none', ms=1.8, zorder=6, clip_on=False)
    x, y = xy(p['init'])
    ax.plot(x, y, ls='none', marker='o', color=RED, mec='none', ms=11.5, zorder=7, clip_on=False)

    ly = p.get('ly', 0.858)
    ax.text(0.84, ly, p['el'], transform=ax.transAxes, fontsize=21, fontweight='bold',
            ha='center', va='center')
    if 'tag' in p:
        ax.text(0.226, ly, p['tag'], transform=ax.transAxes, fontsize=21, fontweight='bold',
                fontstyle='italic', ha='center', va='center')
        labels = LEG_LABELS_L if p['tag'] == 'L200' else LEG_LABELS_A
        handles = [
            Line2D([], [], ls='none', marker='x', color=GRAY, ms=5, mew=1.3),
            Line2D([], [], ls='none', marker='+', color=BLACK, ms=7, mew=1.5),
            Line2D([], [], ls='none', marker='^', color=BLUE, ms=5),
            Line2D([], [], ls='none', marker='o', color=PINK, mec='none', ms=6.5),
            Line2D([], [], ls='none', marker='o', mfc='none', mec=MAGENTA, ms=7.5, mew=1.7),
            Line2D([], [], ls='none', marker='o', color=RED, mec='none', ms=11.5),
        ]
        anchor = (0.927, 0.765) if p['tag'] == 'L200' else (0.938, 0.733)
        ax.legend(handles, labels, loc='upper right', bbox_to_anchor=anchor, frameon=False,
                  markerfirst=False, fontsize=17.5, handlelength=1.0, handletextpad=1.35,
                  labelspacing=0.31, borderpad=0, borderaxespad=0)

fig.savefig('out.png', dpi=100)
